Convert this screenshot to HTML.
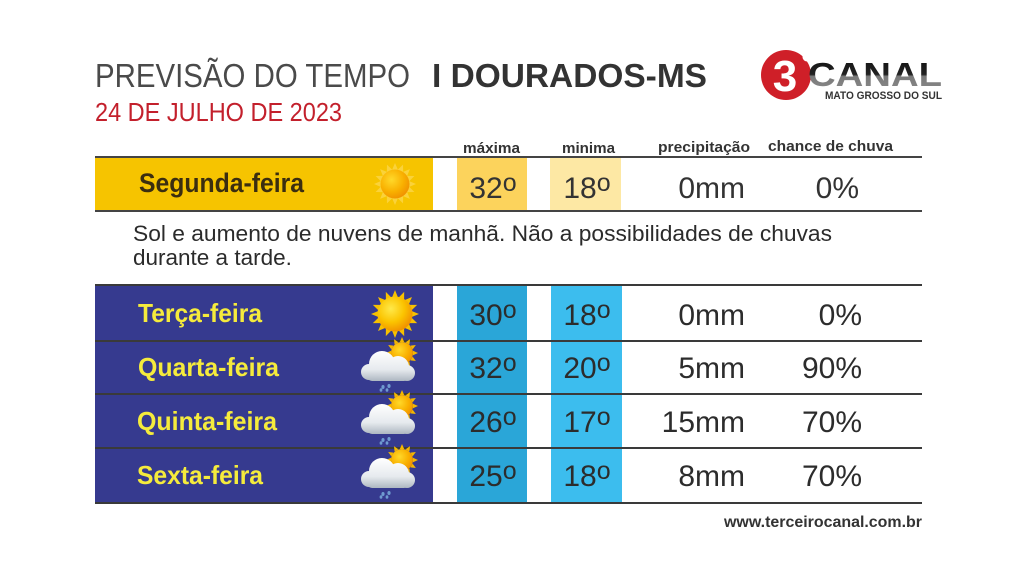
<!DOCTYPE html>
<html><head><meta charset="utf-8">
<style>
html,body{margin:0;padding:0;background:#fff;}
svg{display:block;font-family:"Liberation Sans",Arial,sans-serif;}
</style></head>
<body>
<svg width="1024" height="576" viewBox="0 0 1024 576" xmlns="http://www.w3.org/2000/svg">
<defs>
  <radialGradient id="sunDisc" cx="0.38" cy="0.35" r="0.7">
    <stop offset="0" stop-color="#ffe94a"/>
    <stop offset="0.55" stop-color="#fbc400"/>
    <stop offset="1" stop-color="#f08c00"/>
  </radialGradient>
  <radialGradient id="sunDisc2" cx="0.38" cy="0.35" r="0.7">
    <stop offset="0" stop-color="#ffd92a"/>
    <stop offset="0.6" stop-color="#f9b000"/>
    <stop offset="1" stop-color="#f09000"/>
  </radialGradient>
  <linearGradient id="cloudG" gradientUnits="userSpaceOnUse" x1="0" y1="-17" x2="0" y2="14">
    <stop offset="0" stop-color="#ffffff"/>
    <stop offset="0.6" stop-color="#e6eaee"/>
    <stop offset="1" stop-color="#a9b3bd"/>
  </linearGradient>
  <linearGradient id="canalG" x1="0" y1="0" x2="0" y2="1">
    <stop offset="0" stop-color="#111"/>
    <stop offset="0.5" stop-color="#222"/>
    <stop offset="0.55" stop-color="#7a7a7a"/>
    <stop offset="1" stop-color="#8a8a8a"/>
  </linearGradient>
  <polygon id="ray" points="0,-24 3.2,-16 -3.2,-16" fill="#f7c100"/>
  <polygon id="ray2" points="0,-21 3,-14 -3,-14" fill="#fad23a"/>
  <polygon id="ray3" points="0,-16 2.2,-11 -2.2,-11" fill="#f5b800"/>
  <g id="cloud">
    <g transform="translate(13,-15)">
      <use href="#ray3" transform="rotate(0)"/><use href="#ray3" transform="rotate(30)"/>
      <use href="#ray3" transform="rotate(60)"/><use href="#ray3" transform="rotate(90)"/>
      <use href="#ray3" transform="rotate(120)"/><use href="#ray3" transform="rotate(150)"/>
      <use href="#ray3" transform="rotate(180)"/><use href="#ray3" transform="rotate(210)"/>
      <use href="#ray3" transform="rotate(240)"/><use href="#ray3" transform="rotate(270)"/>
      <use href="#ray3" transform="rotate(300)"/><use href="#ray3" transform="rotate(330)"/>
      <circle r="11" fill="url(#sunDisc2)"/>
    </g>
    <g fill="url(#cloudG)">
      <circle cx="-20" cy="4" r="8"/>
      <circle cx="-7" cy="-4" r="13"/>
      <circle cx="9" cy="-1" r="11"/>
      <circle cx="18" cy="5" r="8"/>
      <rect x="-22" y="2" width="42" height="11" rx="5"/>
    </g>
    <g fill="#6f9bd0">
      <ellipse cx="-6" cy="19" rx="1.6" ry="2"/>
      <ellipse cx="0" cy="18" rx="1.6" ry="2"/>
      <ellipse cx="-8" cy="22" rx="1.4" ry="1.8"/>
      <ellipse cx="-2" cy="22" rx="1.4" ry="1.8"/>
    </g>
  </g>
</defs>

<rect width="1024" height="576" fill="#fff"/>

<!-- Title -->
<text x="95" y="87" font-size="33" fill="#4a4a4a" textLength="315" lengthAdjust="spacingAndGlyphs">PREVISÃO DO TEMPO</text>
<text x="432" y="87" font-size="33" font-weight="bold" fill="#333" textLength="275" lengthAdjust="spacingAndGlyphs">I DOURADOS-MS</text>
<text x="95" y="121" font-size="26" fill="#c3202c" textLength="247" lengthAdjust="spacingAndGlyphs">24 DE JULHO DE 2023</text>

<!-- Logo -->
<circle cx="786" cy="75" r="25" fill="#cf1f28"/>
<circle cx="807" cy="57" r="4.5" fill="#fff"/>
<text x="785" y="91" font-size="44" font-weight="bold" fill="#fff" text-anchor="middle">3</text>
<text x="808" y="86" font-size="33" font-weight="bold" fill="url(#canalG)" textLength="134" lengthAdjust="spacingAndGlyphs">CANAL</text>
<text x="825" y="99" font-size="11" font-weight="bold" fill="#333" textLength="117" lengthAdjust="spacingAndGlyphs">MATO GROSSO DO SUL</text>

<!-- Column headers -->
<g font-size="15" font-weight="bold" fill="#333">
  <text x="463" y="153" textLength="57" lengthAdjust="spacingAndGlyphs">máxima</text>
  <text x="562" y="153" textLength="53" lengthAdjust="spacingAndGlyphs">minima</text>
  <text x="658" y="152" textLength="92" lengthAdjust="spacingAndGlyphs">precipitação</text>
  <text x="768" y="151" textLength="125" lengthAdjust="spacingAndGlyphs">chance de chuva</text>
</g>

<!-- Segunda row -->
<rect x="95" y="157" width="338" height="54" fill="#f6c400"/>
<rect x="457" y="157" width="70" height="54" fill="#fcd35c"/>
<rect x="550" y="157" width="71" height="54" fill="#fde8a4"/>
<line x1="95" y1="157" x2="922" y2="157" stroke="#444" stroke-width="2"/>
<line x1="95" y1="211" x2="922" y2="211" stroke="#444" stroke-width="2"/>
<text x="139" y="192" font-size="27" font-weight="bold" fill="#3b2e10" textLength="165" lengthAdjust="spacingAndGlyphs">Segunda-feira</text>
<g transform="translate(395,184)">
  <use href="#ray2" transform="rotate(0)"/><use href="#ray2" transform="rotate(22.5)"/>
  <use href="#ray2" transform="rotate(45)"/><use href="#ray2" transform="rotate(67.5)"/>
  <use href="#ray2" transform="rotate(90)"/><use href="#ray2" transform="rotate(112.5)"/>
  <use href="#ray2" transform="rotate(135)"/><use href="#ray2" transform="rotate(157.5)"/>
  <use href="#ray2" transform="rotate(180)"/><use href="#ray2" transform="rotate(202.5)"/>
  <use href="#ray2" transform="rotate(225)"/><use href="#ray2" transform="rotate(247.5)"/>
  <use href="#ray2" transform="rotate(270)"/><use href="#ray2" transform="rotate(292.5)"/>
  <use href="#ray2" transform="rotate(315)"/><use href="#ray2" transform="rotate(337.5)"/>
  <circle r="14.5" fill="url(#sunDisc2)"/>
</g>
<g font-size="30" fill="#333">
  <text x="493" y="198" text-anchor="middle">32<tspan font-size="25" dy="-7">o</tspan></text>
  <text x="587" y="198" text-anchor="middle">18<tspan font-size="25" dy="-7">o</tspan></text>
  <text x="745" y="198" text-anchor="end">0mm</text>
  <text x="859" y="198" text-anchor="end">0%</text>
</g>

<!-- Description -->
<g font-size="22.5" fill="#2b2b2b">
  <text x="133" y="241" textLength="699" lengthAdjust="spacingAndGlyphs">Sol e aumento de nuvens de manhã. Não a possibilidades de chuvas</text>
  <text x="133" y="265">durante a tarde.</text>
</g>

<!-- Blue section -->
<rect x="95" y="285" width="338" height="218" fill="#363a8f"/>
<rect x="457" y="285" width="70" height="218" fill="#2aa6d8"/>
<rect x="551" y="285" width="71" height="218" fill="#3cbdee"/>
<g stroke="#3a3a3a" stroke-width="2">
  <line x1="95" y1="285" x2="922" y2="285"/>
  <line x1="95" y1="341" x2="922" y2="341"/>
  <line x1="95" y1="394" x2="922" y2="394"/>
  <line x1="95" y1="448" x2="922" y2="448"/>
  <line x1="95" y1="503" x2="922" y2="503"/>
</g>

<g font-size="26" font-weight="bold" fill="#f5eb3c">
  <text x="138" y="322" textLength="124" lengthAdjust="spacingAndGlyphs">Terça-feira</text>
  <text x="138" y="376" textLength="141" lengthAdjust="spacingAndGlyphs">Quarta-feira</text>
  <text x="137" y="430" textLength="140" lengthAdjust="spacingAndGlyphs">Quinta-feira</text>
  <text x="137" y="484" textLength="126" lengthAdjust="spacingAndGlyphs">Sexta-feira</text>
</g>

<!-- Terça sun -->
<g transform="translate(395,314)">
  <use href="#ray" transform="rotate(0)"/><use href="#ray" transform="rotate(22.5)"/>
  <use href="#ray" transform="rotate(45)"/><use href="#ray" transform="rotate(67.5)"/>
  <use href="#ray" transform="rotate(90)"/><use href="#ray" transform="rotate(112.5)"/>
  <use href="#ray" transform="rotate(135)"/><use href="#ray" transform="rotate(157.5)"/>
  <use href="#ray" transform="rotate(180)"/><use href="#ray" transform="rotate(202.5)"/>
  <use href="#ray" transform="rotate(225)"/><use href="#ray" transform="rotate(247.5)"/>
  <use href="#ray" transform="rotate(270)"/><use href="#ray" transform="rotate(292.5)"/>
  <use href="#ray" transform="rotate(315)"/><use href="#ray" transform="rotate(337.5)"/>
  <circle r="17.5" fill="url(#sunDisc)"/>
</g>

<use href="#cloud" transform="translate(389,368)"/>
<use href="#cloud" transform="translate(389,421)"/>
<use href="#cloud" transform="translate(389,475)"/>

<g font-size="30" fill="#2c2c2c">
  <text x="493" y="325" text-anchor="middle">30<tspan font-size="25" dy="-7">o</tspan></text>
  <text x="587" y="325" text-anchor="middle">18<tspan font-size="25" dy="-7">o</tspan></text>
  <text x="745" y="325" text-anchor="end">0mm</text>
  <text x="862" y="325" text-anchor="end">0%</text>

  <text x="493" y="378" text-anchor="middle">32<tspan font-size="25" dy="-7">o</tspan></text>
  <text x="587" y="378" text-anchor="middle">20<tspan font-size="25" dy="-7">o</tspan></text>
  <text x="745" y="378" text-anchor="end">5mm</text>
  <text x="862" y="378" text-anchor="end">90%</text>

  <text x="493" y="432" text-anchor="middle">26<tspan font-size="25" dy="-7">o</tspan></text>
  <text x="587" y="432" text-anchor="middle">17<tspan font-size="25" dy="-7">o</tspan></text>
  <text x="745" y="432" text-anchor="end">15mm</text>
  <text x="862" y="432" text-anchor="end">70%</text>

  <text x="493" y="486" text-anchor="middle">25<tspan font-size="25" dy="-7">o</tspan></text>
  <text x="587" y="486" text-anchor="middle">18<tspan font-size="25" dy="-7">o</tspan></text>
  <text x="745" y="486" text-anchor="end">8mm</text>
  <text x="862" y="486" text-anchor="end">70%</text>
</g>

<!-- URL -->
<text x="922" y="527" font-size="16" font-weight="bold" fill="#333" text-anchor="end" textLength="198" lengthAdjust="spacingAndGlyphs">www.terceirocanal.com.br</text>
</svg>
</body></html>
